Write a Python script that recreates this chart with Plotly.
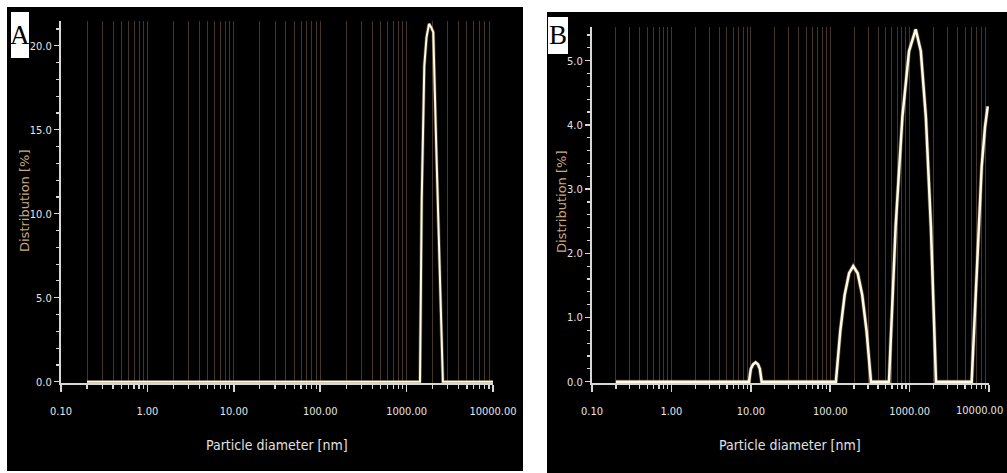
import plotly.graph_objects as go

# ---------------- data ----------------
# Panel A: particle size distribution (nm, %)
a_diam = [0.2, 1429, 1496, 1603, 1700, 1817, 1920, 2037, 2200, 2350, 2500, 2630, 10000]
a_dist = [0.0, 0.0, 10.8, 18.8, 20.5, 21.3, 21.1, 20.8, 14.1, 8.3, 2.9, 0.0, 0.0]

# Panel B: particle size distribution (nm, %)
b_diam = [0.2, 9.5, 10.0, 10.7, 11.5, 12.3, 13.0, 13.7,
          118, 134, 152, 173, 195, 222, 253, 287, 326,
          550, 667, 811, 984, 1194, 1384, 1603, 1854, 2150,
          6050, 7000, 8090, 8910, 9640]
b_dist = [0.0, 0.0, 0.20, 0.27, 0.30, 0.27, 0.20, 0.0,
          0.0, 0.79, 1.35, 1.69, 1.80, 1.69, 1.35, 0.79, 0.0,
          0.0, 2.42, 4.12, 5.15, 5.49, 5.15, 4.12, 2.42, 0.0,
          0.0, 1.79, 3.35, 3.97, 4.29]

x_tick_vals = [0.1, 1, 10, 100, 1000, 10000]
x_tick_text = ["0.10", "1.00", "10.00", "100.00", "1000.00", "10000.00"]
x_minor_vals = [k * d for d in [0.1, 1, 10, 100, 1000] for k in range(2, 10)]

a_y_ticks = [0, 5, 10, 15, 20]
b_y_ticks = [0, 1, 2, 3, 4, 5]

x_title = "Particle diameter [nm]"
y_title = "Distribution [%]"
panel_labels = ["A", "B"]

# ---------------- layout helpers ----------------
W, H = 1007, 473
def px(x):
    return x / W
def py(y):
    return 1 - y / H

LINE = "rgb(255,250,232)"
GLOW = "rgba(215,185,115,0.35)"
GRID = "rgba(140,105,80,0.5)"
AXIS = "rgb(215,215,215)"
FAM = "Liberation Sans Narrow, DejaVu Sans Condensed, sans-serif"
TICKF = dict(family=FAM, size=11, color="rgb(228,228,228)")

# panel B's last label sits at the right edge of the page; it is placed as an annotation
b_x_tick_text = x_tick_text[:-1] + [""]

fig = go.Figure()

for xs, ys, xa, ya, w in [(a_diam, a_dist, "x", "y", 2.0), (b_diam, b_dist, "x2", "y2", 2.5)]:
    fig.add_trace(go.Scatter(x=xs, y=ys, mode="lines", xaxis=xa, yaxis=ya,
                             line=dict(color=GLOW, width=w + 1.5), hoverinfo="skip", showlegend=False))
    fig.add_trace(go.Scatter(x=xs, y=ys, mode="lines", xaxis=xa, yaxis=ya,
                             line=dict(color=LINE, width=w), showlegend=False))

def xaxis_cfg(domain, ttext):
    return dict(
        domain=domain, type="log", range=[-1, 4], automargin=False,
        tickmode="array", tickvals=x_tick_vals, ticktext=ttext,
        ticks="outside", ticklen=7, tickwidth=1.5, tickcolor=AXIS,
        tickfont=TICKF, ticklabelstandoff=10, ticklabeloverflow="allow",
        showline=True, linecolor=AXIS, linewidth=2,
        showgrid=True, gridcolor=GRID, gridwidth=1,
        minor=dict(tickmode="array", tickvals=x_minor_vals, ticks="outside", ticklen=4,
                   tickwidth=1.2, tickcolor=AXIS, showgrid=True, gridcolor=GRID, gridwidth=1),
        zeroline=False, fixedrange=True,
    )

def yaxis_cfg(domain, rng, ticks, minor_dtick, anchor):
    return dict(
        domain=domain, range=rng, anchor=anchor, automargin=False,
        tickmode="array", tickvals=ticks, tickformat=".1f",
        ticks="outside", ticklen=5, tickwidth=1.5, tickcolor=AXIS,
        tickfont=TICKF, ticklabeloverflow="allow",
        showline=True, linecolor=AXIS, linewidth=2,
        showgrid=False, zeroline=False,
        minor=dict(dtick=minor_dtick, ticks="outside", ticklen=3, tickwidth=1.2,
                   tickcolor=AXIS, showgrid=False),
        fixedrange=True,
    )

fig.update_layout(
    width=W, height=H,
    margin=dict(l=0, r=0, t=0, b=0, pad=0),
    paper_bgcolor="white", plot_bgcolor="rgba(0,0,0,0)",
    xaxis=dict(**xaxis_cfg([px(61), px(493)], x_tick_text), anchor="y"),
    yaxis=yaxis_cfg([py(383), py(21)], [-0.077, 21.47], a_y_ticks, 1, "x"),
    xaxis2=dict(**xaxis_cfg([px(592), px(989)], b_x_tick_text), anchor="y2"),
    yaxis2=yaxis_cfg([py(383), py(27)], [-0.02, 5.525], b_y_ticks, 0.2, "x2"),
    shapes=[
        dict(type="rect", xref="paper", yref="paper", x0=px(7), x1=px(523), y0=py(471), y1=py(7),
             fillcolor="black", line=dict(width=0), layer="below"),
        dict(type="rect", xref="paper", yref="paper", x0=px(547), x1=px(1007), y0=py(473), y1=py(12),
             fillcolor="black", line=dict(width=0), layer="below"),
        dict(type="rect", xref="paper", yref="paper", x0=px(11), x1=px(29), y0=py(58), y1=py(12),
             fillcolor="white", line=dict(width=0), layer="above"),
        dict(type="rect", xref="paper", yref="paper", x0=px(548), x1=px(568), y0=py(54), y1=py(17),
             fillcolor="white", line=dict(width=0), layer="above"),
    ],
)

ann = []
for cx in [277, 790]:
    ann.append(dict(text=x_title, x=px(cx), y=py(445), xref="paper", yref="paper",
                    showarrow=False, xanchor="center", yanchor="middle",
                    font=dict(family=FAM, size=14, color="rgb(225,225,225)")))
for cx, cy in [(25, 201), (562, 202)]:
    ann.append(dict(text=y_title, x=px(cx), y=py(cy), xref="paper", yref="paper",
                    showarrow=False, textangle=-90, xanchor="center", yanchor="middle",
                    font=dict(family="DejaVu Sans, sans-serif", size=13, color="rgb(205,168,125)")))
for lab, cx, cy in [(panel_labels[0], 20, 35), (panel_labels[1], 558, 35.5)]:
    ann.append(dict(text=lab, x=px(cx), y=py(cy), xref="paper", yref="paper",
                    showarrow=False, xanchor="center", yanchor="middle",
                    font=dict(family="Liberation Serif, DejaVu Serif, serif", size=27, color="black")))
ann.append(dict(text=x_tick_text[-1], x=px(1005), y=py(410), xref="paper", yref="paper",
                showarrow=False, xanchor="right", yanchor="middle", font=TICKF))
fig.update_layout(annotations=ann)

fig.write_html("out.html",
               config={"displayModeBar": False, "staticPlot": True},
               post_script="document.body.style.margin='0';document.body.style.padding='0';"
                           "document.body.style.overflow='hidden';")
